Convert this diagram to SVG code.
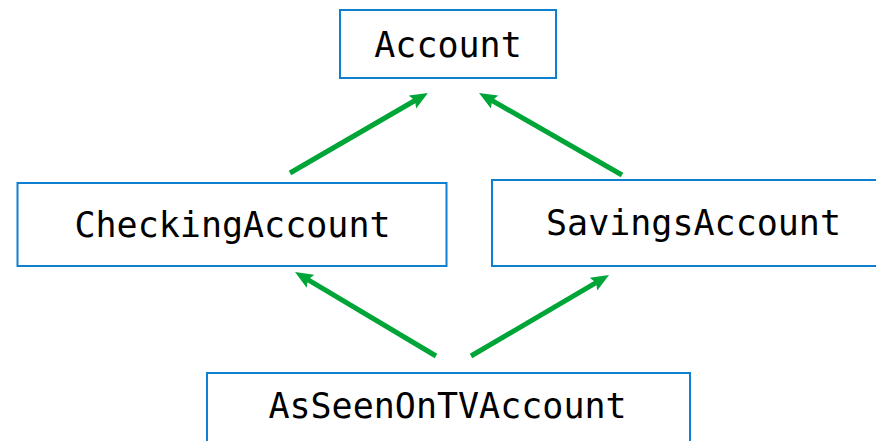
<svg xmlns="http://www.w3.org/2000/svg" width="876" height="441" viewBox="0 0 876 441">
<style>
.box{fill:#fff;stroke:#0f7fd2;stroke-width:2}
.lbl{font-family:"DejaVu Sans Mono",monospace;font-size:35px;fill:#000;text-anchor:middle}
.edge{stroke:#00a538;stroke-width:5;fill:none}
</style>
<defs>
<marker id="ah" markerUnits="userSpaceOnUse" viewBox="-8 -8 18 16" refX="0" refY="0" markerWidth="18" markerHeight="16" orient="auto">
<path d="M-8,-7.5 L10,0 L-8,7.5 L-5,0 z" fill="#00a538"/>
</marker>
</defs>
<rect width="876" height="441" fill="#fff"/>
<g id="account"><rect class="box" x="340" y="10" width="216" height="68"/><text class="lbl" x="448" y="57">Account</text></g>
<g id="checking"><rect class="box" x="17.5" y="183" width="429" height="83"/><text class="lbl" x="232.5" y="237">CheckingAccount</text></g>
<g id="savings"><rect class="box" x="492" y="180" width="400" height="86"/><text class="lbl" x="693.5" y="235">SavingsAccount</text></g>
<g id="asseen"><rect class="box" x="207" y="373" width="483" height="80"/><text class="lbl" x="447.5" y="418">AsSeenOnTVAccount</text></g>
<g id="connectors">
<line class="edge" x1="290" y1="173" x2="419.3" y2="98" marker-end="url(#ah)"/>
<line class="edge" x1="622" y1="175" x2="487.7" y2="98" marker-end="url(#ah)"/>
<line class="edge" x1="436" y1="356" x2="303.6" y2="277.1" marker-end="url(#ah)"/>
<line class="edge" x1="471" y1="356" x2="600.4" y2="280.1" marker-end="url(#ah)"/>
</g>
</svg>
